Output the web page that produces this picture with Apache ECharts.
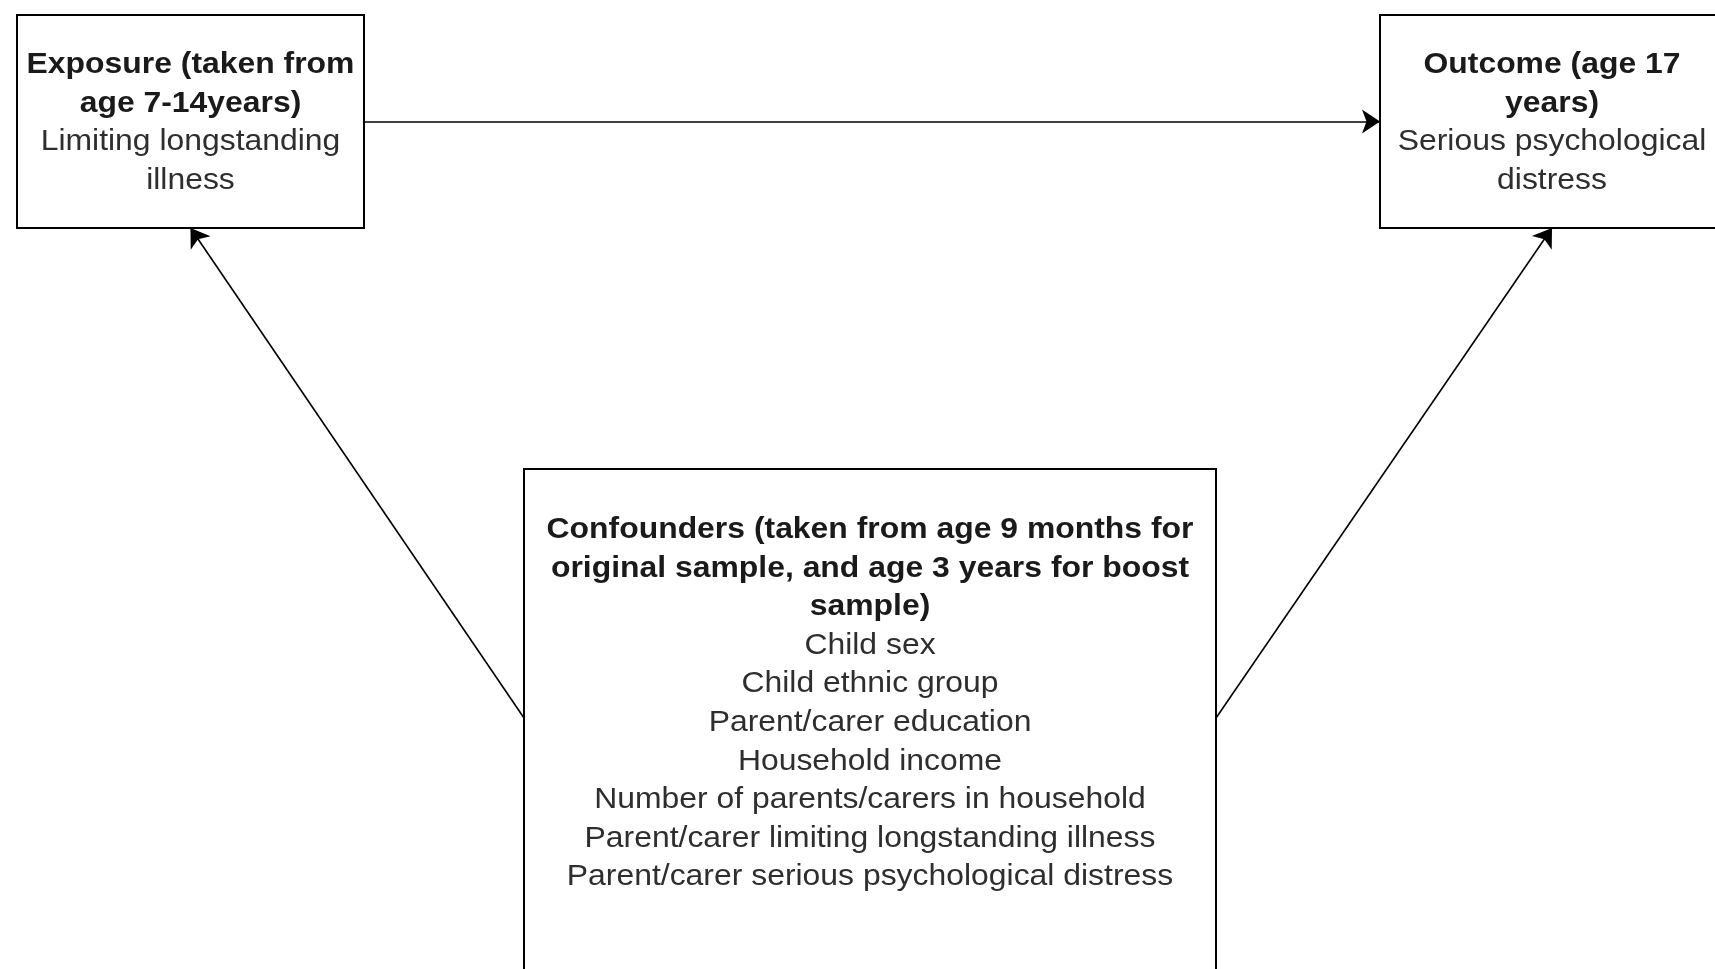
<!DOCTYPE html>
<html>
<head>
<meta charset="utf-8">
<script src="https://cdn.jsdelivr.net/npm/echarts@6/dist/echarts.min.js"></script>
<style>
html,body{margin:0;padding:0;background:#fff;}
#c{width:1715px;height:969px;}
</style>
</head>
<body>
<div id="c"></div>
<script>
// ---- content ----
const nodeNames = ['exposure', 'outcome', 'confounders'];
const nodeTitles = [
  ['Exposure (taken from', 'age 7-14years)'],
  ['Outcome (age 17', 'years)'],
  ['Confounders (taken from age 9 months for', 'original sample, and age 3 years for boost', 'sample)']
];
const nodeDetails = [
  ['Limiting longstanding', 'illness'],
  ['Serious psychological', 'distress'],
  ['Child sex', 'Child ethnic group', 'Parent/carer education', 'Household income',
   'Number of parents/carers in household', 'Parent/carer limiting longstanding illness',
   'Parent/carer serious psychological distress']
];
// edges: [from, to, fromSide, toSide]
const edges = [
  ['exposure', 'outcome', 'right', 'left'],
  ['confounders', 'exposure', 'left', 'bottom'],
  ['confounders', 'outcome', 'right', 'bottom']
];

// ---- layout (pixel space of the hidden axes) ----
const layout = {
  exposure:    {x0: 17,  y0: 15,  x1: 364,  y1: 228, textTop: 65,  anchorY: 121.5},
  outcome:     {x0: 1380, y0: 15, x1: 1724, y1: 228, textTop: 65,  anchorY: 121.5},
  confounders: {x0: 524, y0: 469, x1: 1216, y1: 990, textTop: 530, anchorY: 718}
};
const lineStep = 38.6;

function anchor(name, side) {
  const b = layout[name];
  const cx = (b.x0 + b.x1) / 2;
  if (side === 'left') return [b.x0, b.anchorY];
  if (side === 'right') return [b.x1, b.anchorY];
  if (side === 'bottom') return [cx, b.y1];
  return [cx, b.y0];
}

const edgeData = edges.map(e => ({coords: [anchor(e[0], e[2]), anchor(e[1], e[3])]}));

const chart = echarts.init(document.getElementById('c'), null, {renderer: 'canvas'});
chart.setOption({
  backgroundColor: '#ffffff',
  animation: false,
  grid: {left: 0, right: 0, top: 0, bottom: 0},
  xAxis: {type: 'value', min: 0, max: 1715, show: false},
  yAxis: {type: 'value', min: 0, max: 969, inverse: true, show: false},
  series: [
    {
      type: 'lines',
      coordinateSystem: 'cartesian2d',
      symbol: ['none', 'arrow'],
      symbolSize: 18,
      lineStyle: {color: '#000', width: 1.6, opacity: 1},
      data: edgeData,
      z: 1
    },
    {
      type: 'custom',
      coordinateSystem: 'cartesian2d',
      data: nodeNames.map((n, i) => [i]),
      z: 2,
      renderItem: function (params, api) {
        const i = api.value(0);
        const b = layout[nodeNames[i]];
        const p0 = api.coord([b.x0, b.y0]);
        const p1 = api.coord([b.x1, b.y1]);
        const cx = (p0[0] + p1[0]) / 2;
        const children = [{
          type: 'rect',
          shape: {x: p0[0], y: p0[1], width: p1[0] - p0[0], height: p1[1] - p0[1]},
          style: {fill: '#ffffff', stroke: '#000', lineWidth: 2}
        }];
        const lines = nodeTitles[i].map(t => [t, true]).concat(nodeDetails[i].map(t => [t, false]));
        const top = api.coord([0, b.textTop])[1];
        lines.forEach((ln, k) => {
          children.push({
            type: 'text',
            x: cx,
            y: top + k * lineStep,
            scaleX: 1.1,
            style: {
              text: ln[0],
              font: (ln[1] ? 'bold ' : '') + '29px "Liberation Sans", Arial, sans-serif',
              fill: ln[1] ? '#1a1a1a' : '#2e2e2e',
              align: 'center',
              verticalAlign: 'middle'
            }
          });
        });
        return {type: 'group', children: children};
      }
    }
  ]
});
</script>
</body>
</html>
